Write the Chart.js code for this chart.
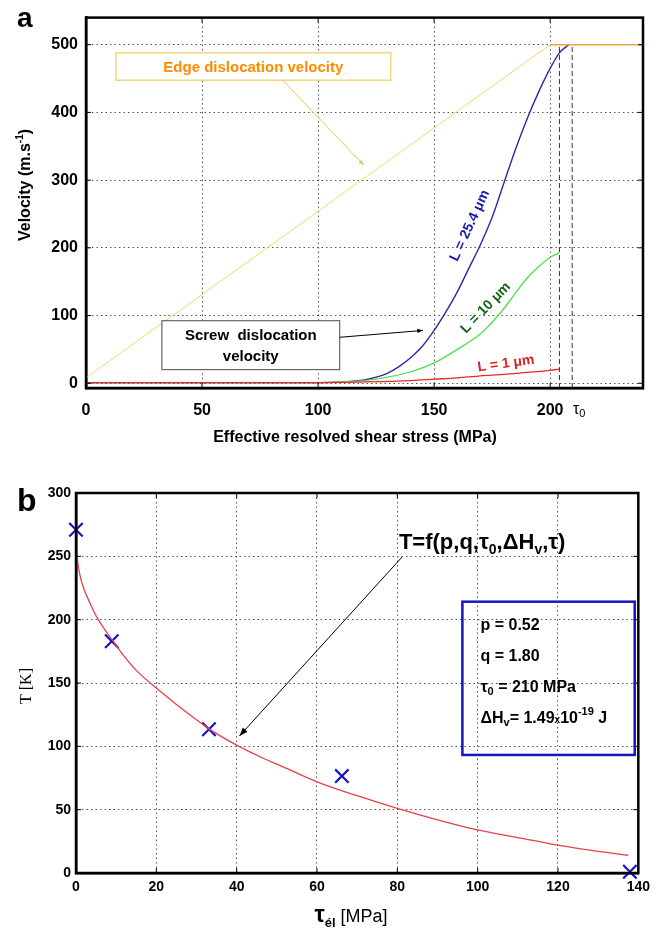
<!DOCTYPE html>
<html>
<head>
<meta charset="utf-8">
<script src="https://cdn.jsdelivr.net/npm/chart.js@4.4.0/dist/chart.umd.min.js"></script>
<style>
  html, body { margin: 0; padding: 0; background: #fff; }
  #wrap { position: relative; width: 656px; height: 931px; }
  canvas { position: absolute; left: 0; }
  #velocityChart { top: 0; }
  #tempChart { top: 460px; }
</style>
</head>
<body>
<div id="wrap">
  <canvas id="velocityChart" width="656" height="460"></canvas>
  <canvas id="tempChart" width="656" height="471"></canvas>
</div>
<script>
// ---------- panel a : velocity vs effective resolved shear stress ----------
const edgeStress = [0, 200];
const edgeVelocity = [8, 500];
const edgeSatStress = [200, 240];
const edgeSatVelocity = [500, 500];

const stressL25 = [0, 100, 110, 120, 125, 130, 135, 140, 145, 150, 155, 160, 165, 170, 175, 180, 185, 190, 195, 200, 204, 208];
const velocityL25 = [1, 1, 2, 5, 9, 15, 25, 38, 55, 78, 105, 135, 170, 205, 245, 295, 345, 390, 430, 465, 488, 500];

const stressL10 = [0, 100, 110, 120, 130, 140, 150, 160, 170, 175, 180, 185, 190, 195, 200, 204];
const velocityL10 = [1, 1, 2, 4, 9, 17, 30, 50, 73, 90, 110, 133, 155, 172, 186, 193];

const stressL1 = [0, 100, 120, 140, 150, 160, 170, 180, 190, 200, 204];
const velocityL1 = [1, 1, 2, 4, 6, 8, 11, 13, 16, 19, 21];

const cutoffStress = [204, 209.5];
const stressTicks = [0, 50, 100, 150, 200];
const velocityTicks = [0, 100, 200, 300, 400, 500];

// ---------- panel b : temperature vs elastic stress ----------
const tauMeasured = [0, 8.9, 33.1, 66.2, 137.9];
const tempMeasured = [271, 183, 113.5, 76.5, 1];

const tauFit = [0, 0.3, 1, 2, 3.5, 5, 7, 9, 12, 15, 20, 25, 30, 33, 40, 47, 50, 60, 70, 80, 90, 100, 110, 120, 130, 137.5];
const tempFit = [268, 250, 235, 224, 213, 203, 193, 184, 171, 160, 146, 133, 121, 114, 101, 90, 86, 72, 61, 51, 42, 34, 28, 22, 17, 14];

const tauTicks = [0, 20, 40, 60, 80, 100, 120, 140];
const tempTicks = [0, 50, 100, 150, 200, 250, 300];

const pts = (xs, ys) => xs.map((x, i) => ({ x: x, y: ys[i] }));
const SANS = "'Liberation Sans', Arial, sans-serif";

function rich(ctx, parts, x, y, align) {
  let w = 0;
  parts.forEach(p => { ctx.font = p[1]; w += ctx.measureText(p[0]).width; });
  let cx = align === 'center' ? x - w / 2 : (align === 'right' ? x - w : x);
  ctx.textAlign = 'left';
  parts.forEach(p => {
    ctx.font = p[1];
    ctx.fillText(p[0], cx, y + (p[2] || 0));
    cx += ctx.measureText(p[0]).width;
  });
}

function arrow(ctx, x1, y1, x2, y2, color, head) {
  ctx.strokeStyle = color;
  ctx.fillStyle = color;
  ctx.lineWidth = 1;
  ctx.beginPath(); ctx.moveTo(x1, y1); ctx.lineTo(x2, y2); ctx.stroke();
  const a = Math.atan2(y2 - y1, x2 - x1);
  ctx.beginPath();
  ctx.moveTo(x2, y2);
  ctx.lineTo(x2 - head * Math.cos(a - 0.35), y2 - head * Math.sin(a - 0.35));
  ctx.lineTo(x2 - head * Math.cos(a + 0.35), y2 - head * Math.sin(a + 0.35));
  ctx.closePath(); ctx.fill();
}

function frameAndTicks(chart, len) {
  const { ctx, chartArea: a, scales: { x, y } } = chart;
  ctx.save();
  ctx.strokeStyle = '#000';
  ctx.lineWidth = 1;
  ctx.beginPath();
  x.ticks.forEach(t => {
    const px = x.getPixelForValue(t.value);
    ctx.moveTo(px, a.bottom); ctx.lineTo(px, a.bottom - len);
    ctx.moveTo(px, a.top); ctx.lineTo(px, a.top + len);
  });
  y.ticks.forEach(t => {
    const py = y.getPixelForValue(t.value);
    ctx.moveTo(a.left, py); ctx.lineTo(a.left + len, py);
    ctx.moveTo(a.right, py); ctx.lineTo(a.right - len, py);
  });
  ctx.stroke();
  ctx.lineWidth = 2.5;
  ctx.strokeRect(a.left, a.top, a.right - a.left, a.bottom - a.top);
  ctx.restore();
}

function axisOpts(min, max, ticks, font, pad, size, isY) {
  return {
    type: 'linear', min: min, max: max,
    afterBuildTicks: s => { s.ticks = ticks.map(v => ({ value: v })); },
    afterFit: s => { if (isY) s.width = size; else s.height = size; },
    grid: { color: '#555', lineWidth: 1, drawTicks: false },
    border: { display: true, color: '#000', width: 2.5, dash: [1.5, 3] },
    ticks: { color: '#000', font: font, padding: pad, autoSkip: false, maxRotation: 0 }
  };
}

const panelA = {
  id: 'panelA',
  afterDatasetsDraw(chart) {
    const { ctx, scales: { x, y } } = chart;
    frameAndTicks(chart, 5);
    ctx.save();
    ctx.fillStyle = '#000';
    ctx.textBaseline = 'alphabetic';
    rich(ctx, [['a', 'bold 28px ' + SANS]], 17, 27, 'left');

    // tau0 tick label
    ctx.fillStyle = '#000';
    ctx.textBaseline = 'top';
    rich(ctx, [['τ', '16px ' + SANS], ['0', '11px ' + SANS, 6]], x.getPixelForValue(212.5), 402, 'center');

    // axis titles
    ctx.textBaseline = 'middle';
    rich(ctx, [['Effective resolved shear stress (MPa)', 'bold 16px ' + SANS]], 355, 438, 'center');
    ctx.save();
    ctx.translate(26, 185);
    ctx.rotate(-Math.PI / 2);
    rich(ctx, [['Velocity (m.s', 'bold 16px ' + SANS], ['-1', 'bold 10px ' + SANS, -6], [')', 'bold 16px ' + SANS]], 0, 0, 'center');
    ctx.restore();

    // edge dislocation box
    const ex1 = x.getPixelForValue(12.9), ex2 = x.getPixelForValue(131.3);
    const ey1 = y.getPixelForValue(488), ey2 = y.getPixelForValue(447.5);
    ctx.fillStyle = '#fff';
    ctx.fillRect(ex1, ey1, ex2 - ex1, ey2 - ey1);
    ctx.strokeStyle = '#efd97a'; ctx.lineWidth = 1.5;
    ctx.strokeRect(ex1, ey1, ex2 - ex1, ey2 - ey1);
    ctx.fillStyle = '#ff8c00';
    rich(ctx, [['Edge dislocation velocity', 'bold 15px ' + SANS]], (ex1 + ex2) / 2, (ey1 + ey2) / 2 + 1, 'center');
    arrow(ctx, x.getPixelForValue(84.8), ey2, x.getPixelForValue(119.7), y.getPixelForValue(322), '#e9c65a', 6);

    // screw dislocation box
    const sx1 = x.getPixelForValue(32.7), sx2 = x.getPixelForValue(109.3);
    const sy1 = y.getPixelForValue(92.4), sy2 = y.getPixelForValue(20.2);
    ctx.fillStyle = '#fff';
    ctx.fillRect(sx1, sy1, sx2 - sx1, sy2 - sy1);
    ctx.strokeStyle = '#666'; ctx.lineWidth = 1.2;
    ctx.strokeRect(sx1, sy1, sx2 - sx1, sy2 - sy1);
    ctx.fillStyle = '#000';
    rich(ctx, [['Screw  dislocation', 'bold 15px ' + SANS]], (sx1 + sx2) / 2, y.getPixelForValue(69.4), 'center');
    rich(ctx, [['velocity', 'bold 15px ' + SANS]], (sx1 + sx2) / 2, y.getPixelForValue(39), 'center');
    arrow(ctx, sx2, y.getPixelForValue(67.9), x.getPixelForValue(145.2), y.getPixelForValue(78), '#000', 6);

    // curve labels
    const lbl = (txt, vx, vy, deg, color) => {
      ctx.save();
      ctx.translate(x.getPixelForValue(vx), y.getPixelForValue(vy));
      ctx.rotate(deg * Math.PI / 180);
      ctx.fillStyle = color;
      rich(ctx, [[txt, 'bold 14px ' + SANS]], 0, 0, 'center');
      ctx.restore();
    };
    lbl('L = 25.4 μm', 165.4, 232.7, -65, '#1a1ab0');
    lbl('L = 10 μm', 172.3, 111.3, -46, '#146414');
    lbl('L = 1 μm', 181, 28.9, -8, '#dd1e1e');
    ctx.restore();
  }
};

new Chart(document.getElementById('velocityChart'), {
  type: 'line',
  data: {
    datasets: [
      { data: pts(edgeStress, edgeVelocity), borderColor: '#f2d870', borderWidth: 1, pointRadius: 0 },
      { data: pts(edgeSatStress, edgeSatVelocity), borderColor: '#e9a93a', borderWidth: 1.5, pointRadius: 0 },
      { data: pts([cutoffStress[0], cutoffStress[0]], [-7, 500]), borderColor: '#333', borderWidth: 1, borderDash: [5, 3], pointRadius: 0 },
      { data: pts([cutoffStress[1], cutoffStress[1]], [-7, 500]), borderColor: '#333', borderWidth: 1, borderDash: [5, 3], pointRadius: 0 },
      { data: pts(stressL1, velocityL1), borderColor: '#e8282a', borderWidth: 1.3, pointRadius: 0, cubicInterpolationMode: 'monotone' },
      { data: pts(stressL10, velocityL10), borderColor: '#4ee04e', borderWidth: 1.3, pointRadius: 0, cubicInterpolationMode: 'monotone' },
      { data: pts(stressL25, velocityL25), borderColor: '#2a2aa8', borderWidth: 1.4, pointRadius: 0, cubicInterpolationMode: 'monotone' }
    ]
  },
  options: {
    responsive: false,
    animation: false,
    layout: { padding: { top: 9, right: 13, left: 0, bottom: 0 } },
    plugins: { legend: { display: false }, tooltip: { enabled: false } },
    scales: {
      x: axisOpts(0, 240, stressTicks, { family: SANS, size: 16, weight: 'bold' }, 13, 72, false),
      y: axisOpts(-7, 540, velocityTicks, { family: SANS, size: 16, weight: 'bold' }, 8, 86, true)
    }
  },
  plugins: [panelA]
});

const panelB = {
  id: 'panelB',
  afterDatasetsDraw(chart) {
    const { ctx, scales: { x, y } } = chart;
    frameAndTicks(chart, 5);
    ctx.save();
    ctx.fillStyle = '#000';
    ctx.textBaseline = 'alphabetic';
    rich(ctx, [['b', 'bold 32px ' + SANS]], 17, 51, 'left');

    // axis titles
    rich(ctx, [['τ', 'bold 23px ' + SANS], ['él', 'bold 13px ' + SANS, 5], [' [MPa]', '18px ' + SANS]], 351, 462, 'center');
    ctx.save();
    ctx.translate(27, 226);
    ctx.rotate(-Math.PI / 2);
    ctx.textBaseline = 'middle';
    rich(ctx, [['T [K]', "16px 'Liberation Serif', serif"]], 0, 0, 'center');
    ctx.restore();

    // formula label and arrow
    rich(ctx, [['T=f(p,q,τ', 'bold 22px ' + SANS], ['0', 'bold 14px ' + SANS, 5], [',ΔH', 'bold 22px ' + SANS], ['v', 'bold 14px ' + SANS, 5], [',τ)', 'bold 22px ' + SANS]],
      x.getPixelForValue(80.4), y.getPixelForValue(255.8), 'left');
    arrow(ctx, x.getPixelForValue(81.2), y.getPixelForValue(249.5), x.getPixelForValue(40.7), y.getPixelForValue(108.2), '#000', 9);

    // parameter box
    const bx1 = x.getPixelForValue(96.2), bx2 = x.getPixelForValue(139.1);
    const by1 = y.getPixelForValue(214.2), by2 = y.getPixelForValue(93.2);
    ctx.strokeStyle = '#1515c0'; ctx.lineWidth = 2.5;
    ctx.strokeRect(bx1, by1, bx2 - bx1, by2 - by1);
    ctx.fillStyle = '#000';
    ctx.textBaseline = 'middle';
    const tx = x.getPixelForValue(100.7);
    const F = 'bold 16px ' + SANS, f = 'bold 11px ' + SANS;
    rich(ctx, [['p = 0.52', F]], tx, y.getPixelForValue(195.4), 'left');
    rich(ctx, [['q = 1.80', F]], tx, y.getPixelForValue(170.8), 'left');
    rich(ctx, [['τ', F], ['0', f, 5], [' = 210 MPa', F]], tx, y.getPixelForValue(146.6), 'left');
    rich(ctx, [['ΔH', F], ['v', f, 5], ['= 1.49', F], ['x', 'bold 10px ' + SANS, 2], ['10', F], ['-19', f, -6], [' J', F]], tx, y.getPixelForValue(122.1), 'left');
    ctx.restore();
  }
};

new Chart(document.getElementById('tempChart'), {
  type: 'line',
  data: {
    datasets: [
      { data: pts(tauFit, tempFit), borderColor: '#e8404c', borderWidth: 1.3, pointRadius: 0, cubicInterpolationMode: 'monotone' },
      { data: pts(tauMeasured, tempMeasured), showLine: false, pointStyle: 'crossRot', pointRadius: 9.5,
        borderColor: '#1414c8', borderWidth: 2.2, clip: false }
    ]
  },
  options: {
    responsive: false,
    animation: false,
    layout: { padding: { top: 33, right: 16, left: 0, bottom: 0 } },
    plugins: { legend: { display: false }, tooltip: { enabled: false } },
    scales: {
      x: axisOpts(0, 140, tauTicks, { family: SANS, size: 14, weight: 'bold' }, 6, 58, false),
      y: axisOpts(0, 300, tempTicks, { family: SANS, size: 14, weight: 'bold' }, 5, 76, true)
    }
  },
  plugins: [panelB]
});
</script>
</body>
</html>
